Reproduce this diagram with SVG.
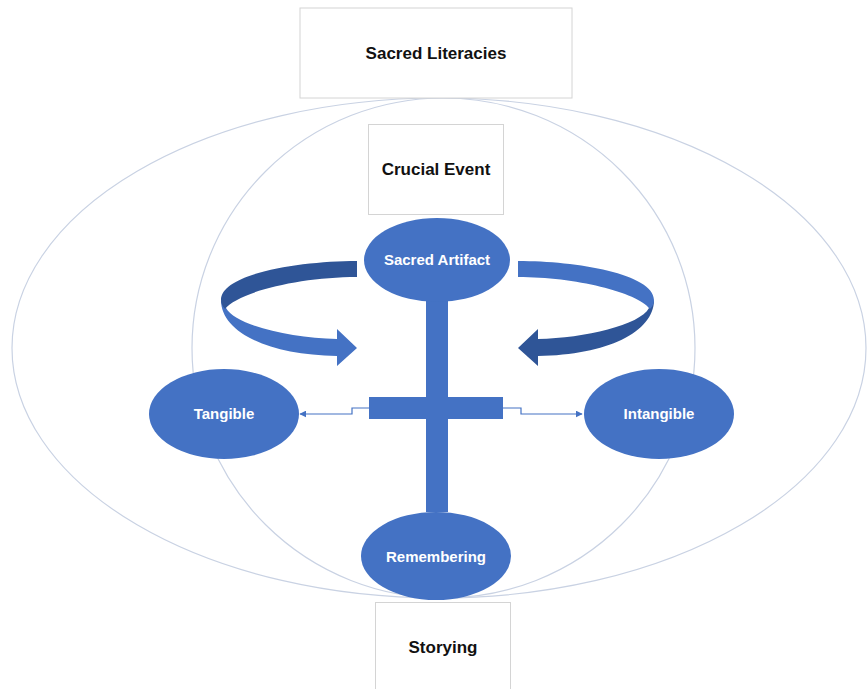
<svg xmlns="http://www.w3.org/2000/svg" width="867" height="689" viewBox="0 0 867 689">
<defs>
<style>
.box{fill:#ffffff;stroke:#d4d4d4;stroke-width:1}
.ring{fill:none;stroke:#c9d2e3;stroke-width:1.2}
.node{fill:#4472c4}
.lbl{font-family:"Liberation Sans",Arial,sans-serif;font-weight:bold;text-anchor:middle}
.blk{fill:#111111;font-size:17px}
.wht{fill:#ffffff;font-size:15px}
.conn{fill:none;stroke:#4472c4;stroke-width:1.2}
.dark{fill:#2f5597}
.light{fill:#4472c4}
</style>
<marker id="ah" viewBox="0 0 10 10" refX="9" refY="5" markerWidth="7" markerHeight="7" orient="auto" markerUnits="userSpaceOnUse">
<path d="M0,0 L10,5 L0,10 Z" fill="#4472c4"/>
</marker>
</defs>
<rect width="867" height="689" fill="#ffffff"/>
<g id="rings">
<ellipse class="ring" cx="439" cy="348" rx="427" ry="250"/>
<ellipse class="ring" cx="443.5" cy="348" rx="251.5" ry="250"/>
</g>
<g id="sacred-literacies">
<rect class="box" x="300" y="8" width="272" height="90"/>
<text class="lbl blk" x="436" y="59">Sacred Literacies</text>
</g>
<g id="crucial-event">
<rect class="box" x="368.5" y="124.5" width="135" height="90"/>
<text class="lbl blk" x="436" y="175">Crucial Event</text>
</g>
<g id="storying">
<rect class="box" x="375.5" y="602.5" width="135" height="90"/>
<text class="lbl blk" x="443" y="653">Storying</text>
</g>
<g id="cross">
<rect class="node" x="426" y="298" width="22" height="214"/>
<rect class="node" x="369" y="397" width="134" height="22"/>
</g>
<g id="connectors">
<path class="conn" d="M369,408 H352 V414 H300" marker-end="url(#ah)"/>
<path class="conn" d="M503,408 H521 V414 H582" marker-end="url(#ah)"/>
</g>
<g id="left-arrow">
<path class="light" d="M221,300 C221,332 268,355 337,356 L337,366 L357,348 L337,329 L337,339 C290,338 235,325 226,308 Z"/>
<path class="dark" d="M357,261 C298,261 221,274 221,300 C221,303 222,306 225,309 C238,292 300,277 357,277 Z"/>
</g>
<g id="right-arrow">
<path class="dark" d="M654,300 C654,332 607,355 538,356 L538,366 L518,348 L538,329 L538,339 C585,338 640,325 649,308 Z"/>
<path class="light" d="M518,261 C577,261 654,274 654,300 C654,303 653,306 650,309 C637,292 575,277 518,277 Z"/>
</g>
<g id="sacred-artifact">
<ellipse class="node" cx="437" cy="260" rx="73" ry="42"/>
<text class="lbl wht" x="437" y="265">Sacred Artifact</text>
</g>
<g id="tangible">
<ellipse class="node" cx="224" cy="414" rx="75" ry="45"/>
<text class="lbl wht" x="224" y="419">Tangible</text>
</g>
<g id="intangible">
<ellipse class="node" cx="659" cy="414" rx="75" ry="45"/>
<text class="lbl wht" x="659" y="419">Intangible</text>
</g>
<g id="remembering">
<ellipse class="node" cx="436" cy="556" rx="75" ry="44"/>
<text class="lbl wht" x="436" y="562">Remembering</text>
</g>
</svg>
